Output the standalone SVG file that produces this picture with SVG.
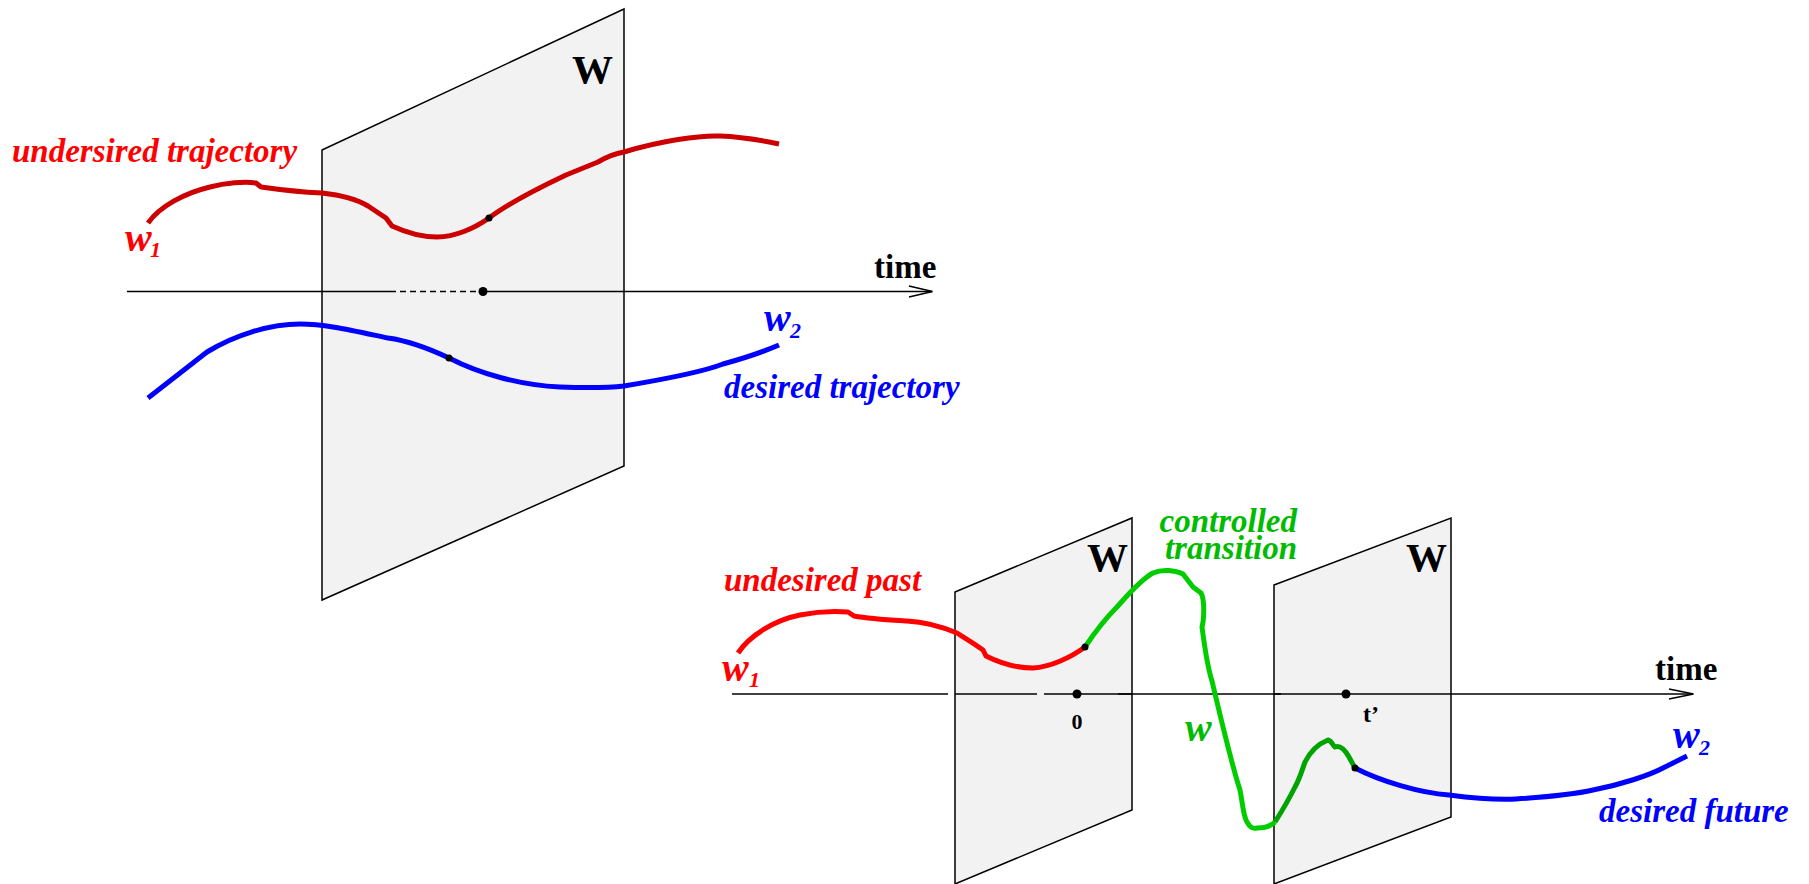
<svg xmlns="http://www.w3.org/2000/svg" width="1809" height="884" viewBox="0 0 1809 884">
<style>
.plane{fill:#f2f2f2;stroke:#000;stroke-width:1.5;stroke-linejoin:miter}
.axis{fill:none;stroke:#000;stroke-width:1.5}
.curve{fill:none;stroke-width:5;stroke-linecap:butt;stroke-linejoin:round}
.lbl{font-family:"Liberation Serif","Times New Roman",serif;font-weight:bold;font-style:italic;font-size:33px}
.wv{font-size:40px}
.sub{font-size:22px}
.up{font-family:"Liberation Serif","Times New Roman",serif;font-weight:bold}
.dot{fill:#000}
</style>
<rect width="1809" height="884" fill="#fff"/>
<!-- Top diagram -->
<g id="plane-top">
<polygon class="plane" points="322,150 624,9 624,466 322,600"/>
<text class="up" x="572" y="82.5" font-size="41">W</text>
</g>
<g id="connectors-top">
<line class="axis" x1="127" y1="291.5" x2="390" y2="291.5"/>
<line class="axis" x1="390" y1="291.5" x2="483" y2="291.5" stroke-dasharray="6,4"/>
<line class="axis" x1="483" y1="291.5" x2="932" y2="291.5"/>
<polyline class="axis" points="909,286 932.5,291.5 909,297"/>
<circle class="dot" cx="483" cy="291.5" r="4.5"/>
<text class="up" x="874" y="277.5" font-size="33">time</text>
</g>
<g id="traj-undesired-top">
<path class="curve" stroke="#cc0000" d="M148,223 C160,206 185,193 210,187 C225,183 245,181 256,183 L261,187 C275,189 300,192 322,193 C340,195 358,200 368,206 L386,218 L392,226 C405,232 420,237 437,237 C455,237 475,228 489,218 C505,206 530,192 566,175 L598,162 C608,156 618,153 624,152 C660,141 700,135 720,136 C745,137 765,141 779,144"/>
<circle class="dot" cx="489" cy="218" r="3.5"/>
<text class="lbl" x="12" y="162" fill="#ff0000">undersired trajectory</text>
<text class="lbl wv" x="125" y="250.5" fill="#ff0000">w</text>
<text class="lbl sub" x="150" y="257" fill="#ff0000">1</text>
</g>
<g id="traj-desired-top">
<path class="curve" stroke="#0000ff" d="M148,398 L207,352 C235,335 270,324 300,324 C325,324 350,330 388,338 C410,341 430,349 449,358 C480,374 520,385 560,387 C590,388 615,387 624,386 C660,380 700,373 723,364 C745,358 765,351 779,345"/>
<circle class="dot" cx="449" cy="358" r="3.5"/>
<text class="lbl wv" x="764" y="331" fill="#0000ff">w</text>
<text class="lbl sub" x="790" y="338" fill="#0000ff">2</text>
<text class="lbl" x="724" y="398" fill="#0000ff">desired trajectory</text>
</g>
<!-- Bottom diagram -->
<g id="plane-A">
<polygon class="plane" points="955,592 1132,518 1132,810 955,884"/>
<text class="up" x="1087" y="571" font-size="41">W</text>
</g>
<g id="plane-B">
<polygon class="plane" points="1274,585 1451,518 1451,817 1274,884"/>
<text class="up" x="1406" y="571" font-size="41">W</text>
</g>
<g id="connectors-bottom">
<line class="axis" x1="732" y1="694" x2="948" y2="694"/>
<line class="axis" x1="955" y1="694" x2="1037" y2="694"/>
<line class="axis" x1="1044" y1="694" x2="1693" y2="694"/>
<line class="axis" x1="1118" y1="694" x2="1132" y2="694" stroke-width="2.5"/>
<line class="axis" x1="1274" y1="694" x2="1281" y2="694" stroke-width="2.5"/>
<polyline class="axis" points="1669,689 1693.5,694 1669,699"/>
<circle class="dot" cx="1077" cy="694" r="4.5"/>
<circle class="dot" cx="1346" cy="694" r="4.5"/>
<text class="up" x="1077" y="728.5" font-size="22" text-anchor="middle">0</text>
<text class="up" x="1363" y="722" font-size="24">t’</text>
<text class="up" x="1655" y="680" font-size="33">time</text>
</g>
<g id="past">
<path class="curve" stroke="#ff0000" stroke-width="6" d="M738,653 C750,635 775,620 800,615 C815,612 835,611 848,612 L854,616 C870,619 890,620 907,621 C925,622 945,628 957,633 C965,638 975,644 983,650 L986,656 C1000,663 1015,668 1033,668 C1050,667 1070,658 1085,647"/>
<text class="lbl" x="724" y="591" fill="#ff0000">undesired past</text>
<text class="lbl wv" x="722" y="681" fill="#ff0000">w</text>
<text class="lbl sub" x="749" y="687" fill="#ff0000">1</text>
</g>
<g id="transition">
<path class="curve" stroke="#00cc00" stroke-width="6" d="M1085,647 C1095,632 1108,616 1117,607 C1126,597 1140,580 1153,573 C1162,569 1175,570 1183,574 L1193,587 L1201,593 C1205,600 1204,620 1202,627 C1205,650 1209,672 1212,681 C1220,715 1235,775 1240,790 C1243,805 1243,815 1247,822 C1250,827 1252,829 1257,828 C1265,828 1271,826 1275,822"/>
<path class="curve" stroke="#00a400" stroke-width="6" d="M1275,822 C1282,811 1290,797 1295,787 C1300,778 1302,770 1305,762 C1310,752 1318,744 1328,740 C1332,741 1333,746 1335,747 C1340,745 1345,750 1349,757 L1355,768"/>
<circle class="dot" cx="1085" cy="647" r="3.5"/>
<text class="lbl" x="1297" y="532" fill="#00bb00" text-anchor="end">controlled</text>
<text class="lbl" x="1297" y="559" fill="#00bb00" text-anchor="end">transition</text>
<text class="lbl wv" x="1185" y="741" fill="#00bb00">w</text>
</g>
<g id="future">
<path class="curve" stroke="#0000ff" stroke-width="6" d="M1355,768 C1380,781 1420,793 1449,795 C1480,799 1500,800 1516,799 C1545,797 1580,793 1593,790 C1620,785 1650,775 1663,768 L1687,756"/>
<circle class="dot" cx="1355" cy="768" r="3.5"/>
<text class="lbl wv" x="1673" y="748" fill="#0000ff">w</text>
<text class="lbl sub" x="1699" y="755" fill="#0000ff">2</text>
<text class="lbl" x="1599" y="822" fill="#0000ff">desired future</text>
</g>
</svg>
